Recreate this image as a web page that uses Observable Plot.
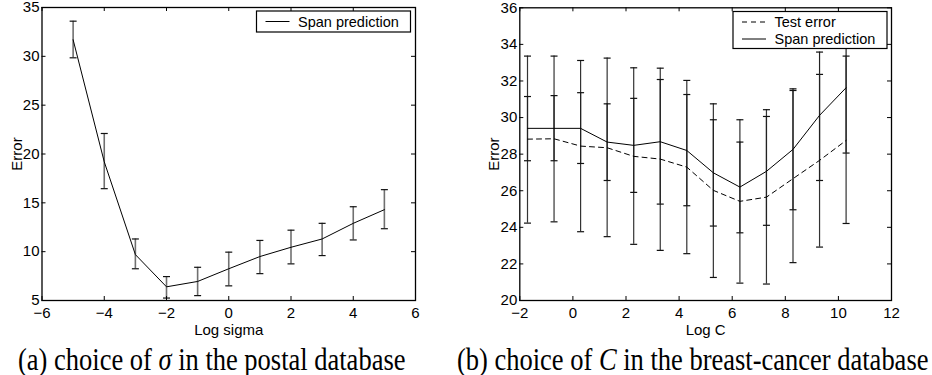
<!DOCTYPE html>
<html><head><meta charset="utf-8">
<script src="https://cdn.jsdelivr.net/npm/d3@7"></script>
<script src="https://cdn.jsdelivr.net/npm/@observablehq/plot@0.6"></script>
<style>
body{margin:0;background:#fff;}
#wrap{position:relative;width:932px;height:375px;overflow:hidden;}
.panel{position:absolute;top:0;}
#overlay{position:absolute;left:0;top:0;pointer-events:none;}
</style></head>
<body>
<div id="wrap">
  <div class="panel" id="pa" style="left:0"></div>
  <div class="panel" id="pb" style="left:466px"></div>
  <svg id="overlay" width="932" height="375"></svg>
</div>
<script>
// ---- Panel (a): postal database ----
const logSigma = [-5, -4, -3, -2, -1, 0, 1, 2, 3, 4, 5];
const spanA    = [31.7, 19.2, 9.7, 6.4, 6.95, 8.25, 9.5, 10.45, 11.3, 12.9, 14.3];
const spanALo  = [29.85, 16.45, 8.25, 5.25, 5.5, 6.5, 7.75, 8.75, 9.6, 11.2, 12.35];
const spanAHi  = [33.6, 22.1, 11.3, 7.45, 8.4, 9.95, 11.15, 12.2, 12.9, 14.6, 16.35];
const xTicksA = [-6, -4, -2, 0, 2, 4, 6];
const yTicksA = [5, 10, 15, 20, 25, 30, 35];

// ---- Panel (b): breast-cancer database ----
const logC     = [-1.71, -0.71, 0.29, 1.29, 2.29, 3.29, 4.29, 5.29, 6.29, 7.29, 8.29, 9.29, 10.29];
const testB    = [28.82, 28.84, 28.44, 28.35, 27.88, 27.73, 27.29, 26.02, 25.42, 25.65, 26.66, 27.66, 28.75];
const testBLo  = [24.23, 24.3, 23.76, 23.49, 23.07, 22.74, 22.56, 21.26, 20.95, 20.9, 22.07, 22.92, 24.21];
const testBHi  = [33.36, 33.36, 33.12, 33.25, 32.72, 32.7, 32.03, 30.75, 29.88, 30.43, 31.57, 32.36, 33.36];
const spanB    = [29.41, 29.41, 29.41, 28.66, 28.48, 28.68, 28.2, 26.98, 26.2, 27.06, 28.26, 30.12, 31.63];
const spanBLo  = [27.64, 27.64, 27.49, 26.56, 25.91, 25.27, 25.18, 24.07, 23.7, 24.11, 24.96, 26.56, 28.06];
const spanBHi  = [31.15, 31.2, 31.36, 30.75, 31.05, 32.08, 31.26, 29.88, 28.66, 30.06, 31.48, 33.58, 35.2];
const xTicksB = [-2, 0, 2, 4, 6, 8, 10, 12];
const yTicksB = [20, 22, 24, 26, 28, 30, 32, 34, 36];

const captionA = ["(a) choice of ", "σ", " in the postal database"];
const captionB = ["(b) choice of ", "C", " in the breast-cancer database"];

const dataA = logSigma.map((x, i) => ({x, y: spanA[i], lo: spanALo[i], hi: spanAHi[i]}));
const dataBT = logC.map((x, i) => ({x, y: testB[i], lo: testBLo[i], hi: testBHi[i]}));
const dataBS = logC.map((x, i) => ({x, y: spanB[i], lo: spanBLo[i], hi: spanBHi[i]}));

const cap = {draw(ctx, size) { const w = Math.sqrt(size / Math.PI); ctx.moveTo(-w, 0); ctx.lineTo(w, 0); }};
const FONT = "'Liberation Sans', Arial, Helvetica, sans-serif";

function boxTicks(xt, yt, iw, ih) {
  const L = 4;
  return [
    Plot.tickX(xt, {x: d => d, insetTop: ih - L, stroke: "#000"}),
    Plot.tickX(xt, {x: d => d, insetBottom: ih - L, stroke: "#000"}),
    Plot.tickY(yt, {y: d => d, insetRight: iw - L, stroke: "#000"}),
    Plot.tickY(yt, {y: d => d, insetLeft: iw - L, stroke: "#000"})
  ];
}

function errBars(data, stroke, sw) {
  return [
    Plot.ruleX(data, {x: "x", y1: "lo", y2: "hi", stroke, strokeWidth: sw}),
    Plot.dot(data, {x: "x", y: "lo", symbol: cap, r: 3.5, fill: "none", stroke: "#111", strokeWidth: 1.2}),
    Plot.dot(data, {x: "x", y: "hi", symbol: cap, r: 3.5, fill: "none", stroke: "#111", strokeWidth: 1.2})
  ];
}

const W = 466, H = 340;
// Panel a
{
  const ml = 41.5, mr = 51, mt = 7, mb = 40;
  const p = Plot.plot({
    width: W, height: H, marginLeft: ml, marginRight: mr, marginTop: mt, marginBottom: mb,
    style: {fontFamily: FONT, fontSize: "15px", background: "white", color: "black"},
    x: {domain: [-6, 6]},
    y: {domain: [5, 35]},
    marks: [
      ...errBars(dataA, "#707070", 1.6),
      Plot.line(dataA, {x: "x", y: "y", stroke: "#000", strokeWidth: 1}),
      ...boxTicks(xTicksA, yTicksA, W - ml - mr, H - mt - mb),
      Plot.axisX(xTicksA, {tickSize: 0, tickPadding: 7, label: "Log sigma", labelAnchor: "center", labelArrow: "none", labelOffset: 34}),
      Plot.axisY(yTicksA, {tickSize: 0, tickPadding: 2.5, label: "Error", labelAnchor: "center", labelArrow: "none", labelOffset: 31}),
      Plot.frame({stroke: "#000", strokeWidth: 1.3})
    ]
  });
  document.getElementById("pa").append(p);
}
// Panel b
{
  const ml = 53.3, mr = 41, mt = 7.3, mb = 40;
  const p = Plot.plot({
    width: W, height: H, marginLeft: ml, marginRight: mr, marginTop: mt, marginBottom: mb,
    style: {fontFamily: FONT, fontSize: "15px", background: "white", color: "black"},
    x: {domain: [-2, 12]},
    y: {domain: [20, 36]},
    marks: [
      ...errBars(dataBT, "#333", 1.2),
      ...errBars(dataBS, "#222", 1.2),
      Plot.line(dataBT, {x: "x", y: "y", stroke: "#000", strokeWidth: 1, strokeDasharray: "5,4"}),
      Plot.line(dataBS, {x: "x", y: "y", stroke: "#000", strokeWidth: 1}),
      ...boxTicks(xTicksB, yTicksB, W - ml - mr, H - mt - mb),
      Plot.axisX(xTicksB, {tickSize: 0, tickPadding: 7, label: "Log C", labelAnchor: "center", labelArrow: "none", labelOffset: 34}),
      Plot.axisY(yTicksB, {tickSize: 0, tickPadding: 2.5, label: "Error", labelAnchor: "center", labelArrow: "none", labelOffset: 31}),
      Plot.frame({stroke: "#000", strokeWidth: 1.3})
    ]
  });
  document.getElementById("pb").append(p);
}

// Legends and captions overlay
const ov = d3.select("#overlay");
function legend(x, y, w, h, rows) {
  const g = ov.append("g").attr("font-family", FONT).attr("font-size", 14.5);
  g.append("rect").attr("x", x).attr("y", y).attr("width", w).attr("height", h)
    .attr("fill", "#fff").attr("stroke", "#000").attr("stroke-width", 1.2);
  rows.forEach((r, i) => {
    const cy = y + 10.5 + i * 17;
    g.append("line").attr("x1", x + 9).attr("x2", x + 33).attr("y1", cy).attr("y2", cy)
      .attr("stroke", "#000").attr("stroke-width", 1).attr("stroke-dasharray", r.dash || null);
    g.append("text").attr("x", x + 41.5).attr("y", cy).attr("dy", "0.35em").text(r.label);
  });
}
legend(256.5, 11, 154, 21, [{label: "Span prediction"}]);
legend(733, 11.5, 154, 37, [{label: "Test error", dash: "5,4"}, {label: "Span prediction"}]);

function caption(x, y, parts) {
  const t = ov.append("text").attr("transform", `translate(${x},${y}) scale(1,1.16)`)
    .attr("font-family", "'Liberation Serif', 'Times New Roman', serif").attr("font-size", 26.5);
  parts.forEach((s, i) => t.append("tspan").attr("font-style", i === 1 ? "italic" : null).text(s));
}
caption(18, 370, captionA);
caption(457, 370, captionB);
</script>
</body></html>
